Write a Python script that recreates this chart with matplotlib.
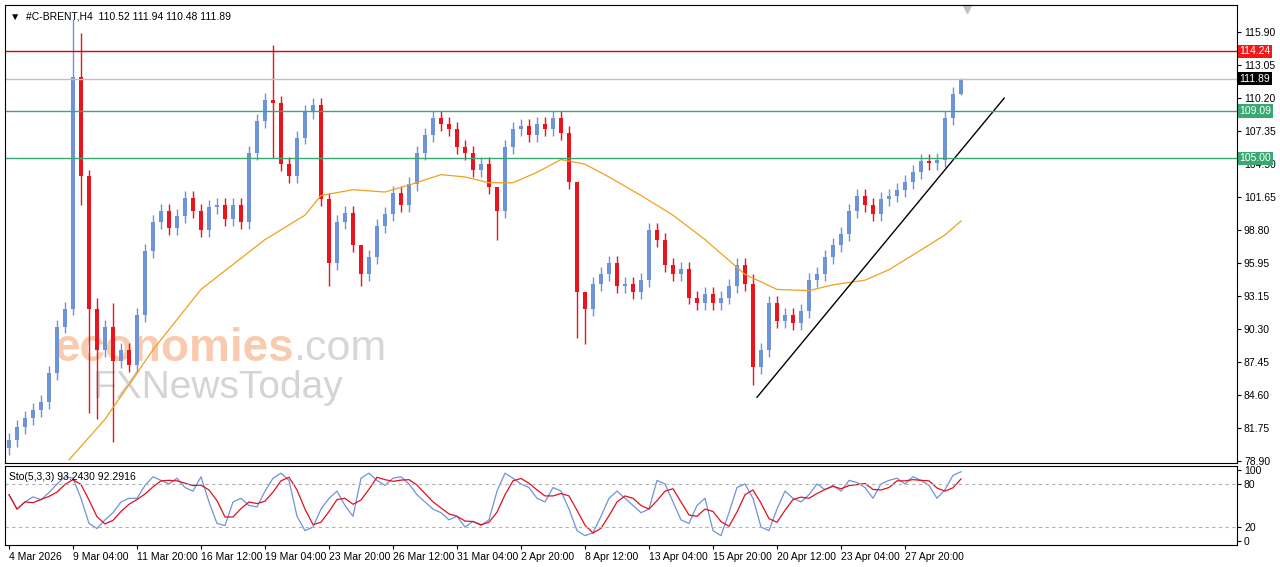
import matplotlib
matplotlib.use("Agg")
import matplotlib.pyplot as plt
import numpy as np

# H4 closes (one bar per 8px of the reference), open = previous close
closes = [80.7, 81.8, 82.6, 83.3, 84.0, 86.5, 90.5, 92.0, 112.0, 103.5,
          92.0, 88.5, 90.5, 87.5, 88.5, 87.2, 91.5, 97.0, 99.5, 100.5,
          99.0, 100.0, 101.6, 100.5, 98.8, 100.8, 101.0, 99.8, 101.0, 99.5,
          105.5, 108.2, 110.0, 109.8, 104.5, 103.5, 106.8, 109.0, 109.6, 101.5,
          96.0, 99.5, 100.3, 97.5, 95.0, 96.5, 99.2, 100.2, 102.0, 101.0,
          102.8, 105.5, 107.0, 108.5, 108.0, 107.5, 106.0, 105.5, 104.0, 104.5,
          102.5, 100.5, 106.0, 107.5, 107.8, 107.0, 108.0, 107.5, 108.5, 107.2,
          103.0, 93.5, 92.0, 94.2, 95.0, 96.0, 94.0, 94.2, 93.5, 94.5,
          98.8, 98.0, 95.8, 95.0, 95.5, 93.0, 92.5, 93.3, 92.5, 93.0,
          94.0, 95.8, 94.2, 87.0, 88.5, 92.5, 91.0, 91.5, 90.8, 91.8,
          94.5, 95.0, 96.5, 97.5, 98.5, 100.5, 101.8, 101.0, 100.2, 101.5,
          101.8, 102.3, 103.0, 103.8, 104.8, 104.6, 104.9, 108.5, 110.52, 111.89]
first_open = 80.0
# notable wicks: bar index -> (high, low)
wicks = {8: (117.0, 91.5), 9: (115.8, 101.0), 10: (104.0, 83.0), 11: (93.0, 82.5),
         13: (92.5, 80.5), 33: (114.8, 105.0), 40: (102.0, 94.0), 44: (97.0, 94.0),
         61: (102.0, 98.0), 71: (101.5, 89.5), 72: (93.5, 89.0), 93: (95.0, 85.5),
         119: (111.94, 110.48)}

# orange moving average, read at bar positions
ma_x = [7.5, 12, 18, 24, 32, 37, 39, 43, 47, 50, 54, 57, 60, 63, 66, 69,
        72, 75, 79, 83, 87, 92, 96, 100, 103, 107, 110, 114, 117, 119]
ma_y = [79.0, 82.5, 88.5, 93.7, 98.0, 100.1, 101.8, 102.3, 102.1, 102.7, 103.6, 103.4,
        102.9, 102.9, 103.8, 104.9, 104.5, 103.4, 101.8, 100.1, 98.0, 95.0, 93.7, 93.6,
        94.1, 94.5, 95.4, 97.1, 98.4, 99.6]

# stochastic %K (5,3,3)
stoch_k = [65, 45, 55, 62, 58, 68, 80, 90, 88, 60, 25, 18, 30, 40, 55, 60,
           60, 78, 90, 85, 80, 88, 75, 70, 90, 55, 25, 22, 55, 60, 50, 48,
           70, 88, 95, 85, 35, 15, 20, 45, 60, 70, 50, 35, 88, 95, 85, 78,
           88, 90, 80, 65, 55, 45, 40, 30, 35, 20, 28, 22, 30, 70, 95, 88,
           80, 75, 60, 55, 75, 70, 45, 15, 8, 12, 35, 60, 70, 60, 50, 40,
           45, 85, 80, 55, 30, 25, 50, 60, 15, 8, 40, 75, 80, 60, 20, 15,
           45, 70, 60, 55, 65, 80, 72, 78, 70, 85, 82, 75, 60, 80, 85, 88,
           80, 90, 85, 78, 60, 72, 92, 97]

hlines = [(114.24, "#e00000", "114.24", "#f21818"), (111.89, "#c0c0c0", "111.89", "#000000"),
          (109.09, "#3aa873", "109.09", "#3aa873"), (105.00, "#3aa873", "105.00", "#3aa873")]
price_ticks = [115.90, 113.05, 110.20, 107.35, 104.50, 101.65, 98.80, 95.95,
               93.15, 90.30, 87.45, 84.60, 81.75, 78.90]
date_labels = ["4 Mar 2026", "9 Mar 04:00", "11 Mar 20:00", "16 Mar 12:00", "19 Mar 04:00",
               "23 Mar 20:00", "26 Mar 12:00", "31 Mar 04:00", "2 Apr 20:00", "8 Apr 12:00",
               "13 Apr 04:00", "15 Apr 20:00", "20 Apr 12:00", "23 Apr 04:00", "27 Apr 20:00"]
trend_x = [93.5, 124.4]
trend_y = [84.4, 110.2]

W, H = 1280, 567
fig = plt.figure(figsize=(W / 100, H / 100), dpi=100)
fig.patch.set_facecolor("white")
plt.rcParams["font.family"] = ["Liberation Sans", "DejaVu Sans"]

def box(l, t, r, b):
    return [l / W, 1 - b / H, (r - l) / W, (b - t) / H]

ax = fig.add_axes(box(5, 5, 1237, 463))
sx = fig.add_axes(box(5, 466, 1237, 545))
XMAX = (1237 - 5) / 8 - 0.5

# watermark behind the candles
ax.text(5.6, 88.6, "economies", fontsize=33, color="#f7b58c", alpha=0.7, fontweight="bold",
        va="center", zorder=0)
ax.text(35.5, 88.6, ".com", fontsize=31, color="#b0b0b0", alpha=0.5, va="center", zorder=0)
ax.text(10.5, 85.2, "FXNewsToday", fontsize=28, color="#a0a0a0", alpha=0.45, va="center",
        zorder=0)

opens = [first_open] + closes[:-1]
for i, (o, c) in enumerate(zip(opens, closes)):
    col = "#6e94d8" if c >= o else "#e8141e"
    hi, lo = wicks.get(i, (max(o, c) + 0.6, min(o, c) - 0.6))
    ax.vlines(i, lo, hi, color=col, lw=1)
    ax.bar(i, max(abs(c - o), 0.15), bottom=min(o, c), width=0.45, color=col, lw=0)

ax.plot(ma_x, ma_y, color="#f0a020", lw=0.9)
ax.plot(trend_x, trend_y, color="black", lw=1)

for y, lc, txt, bc in hlines:
    ax.axhline(y, color=lc, lw=1)
    ax.text(1.002, y, txt, transform=ax.get_yaxis_transform(), va="center", ha="left",
            fontsize=7.5, color="white",
            bbox=dict(boxstyle="square,pad=0.15", fc=bc, ec="none"))

ax.set_xlim(-0.5, XMAX)
ax.set_ylim(78.73, 118.23)
ax.yaxis.tick_right()
ax.set_yticks(price_ticks)
ax.set_yticklabels([f"{v:.2f}" for v in price_ticks], fontsize=7.5)
ax.set_xticks([])
ax.tick_params(axis="y", length=3, pad=2)
for s in ax.spines.values():
    s.set_color("black")
    s.set_linewidth(0.8)

ax.text(0.004, 0.985, "\u25bc  #C-BRENT,H4  110.52 111.94 110.48 111.89", transform=ax.transAxes,
        fontsize=7.5, va="top", ha="left")
ax.plot([119.7], [117.9], marker="v", color="#c0c0c0", ms=6, clip_on=False)

# stochastic panel
k = np.array(stoch_k, dtype=float)
d = np.convolve(k, np.ones(3) / 3, mode="full")[:len(k)]
d[:2] = k[:2]
xs = np.arange(len(k))
sx.plot(xs, k, color="#6e94d8", lw=0.9)
sx.plot(xs, d, color="#e01020", lw=0.9)
for lv in (80, 20):
    sx.axhline(lv, color="#b0b0b0", lw=0.8, ls=(0, (3, 3)))
sx.set_xlim(-0.5, XMAX)
sx.set_ylim(-5, 105)
sx.yaxis.tick_right()
sx.set_yticks([100, 80, 20, 0])
sx.set_yticklabels(["100", "80", "20", "0"], fontsize=7.5)
sx.tick_params(axis="y", length=3, pad=2)
sx.set_xticks(np.arange(len(date_labels)) * 8)
sx.set_xticklabels(date_labels, fontsize=7.5, ha="left")
sx.tick_params(axis="x", length=3, pad=2)
sx.text(0.003, 0.92, "Sto(5,3,3) 93.2430 92.2916", transform=sx.transAxes, fontsize=7.5,
        va="top")
for s in sx.spines.values():
    s.set_color("black")
    s.set_linewidth(0.8)

fig.savefig("out.png", dpi=100)
